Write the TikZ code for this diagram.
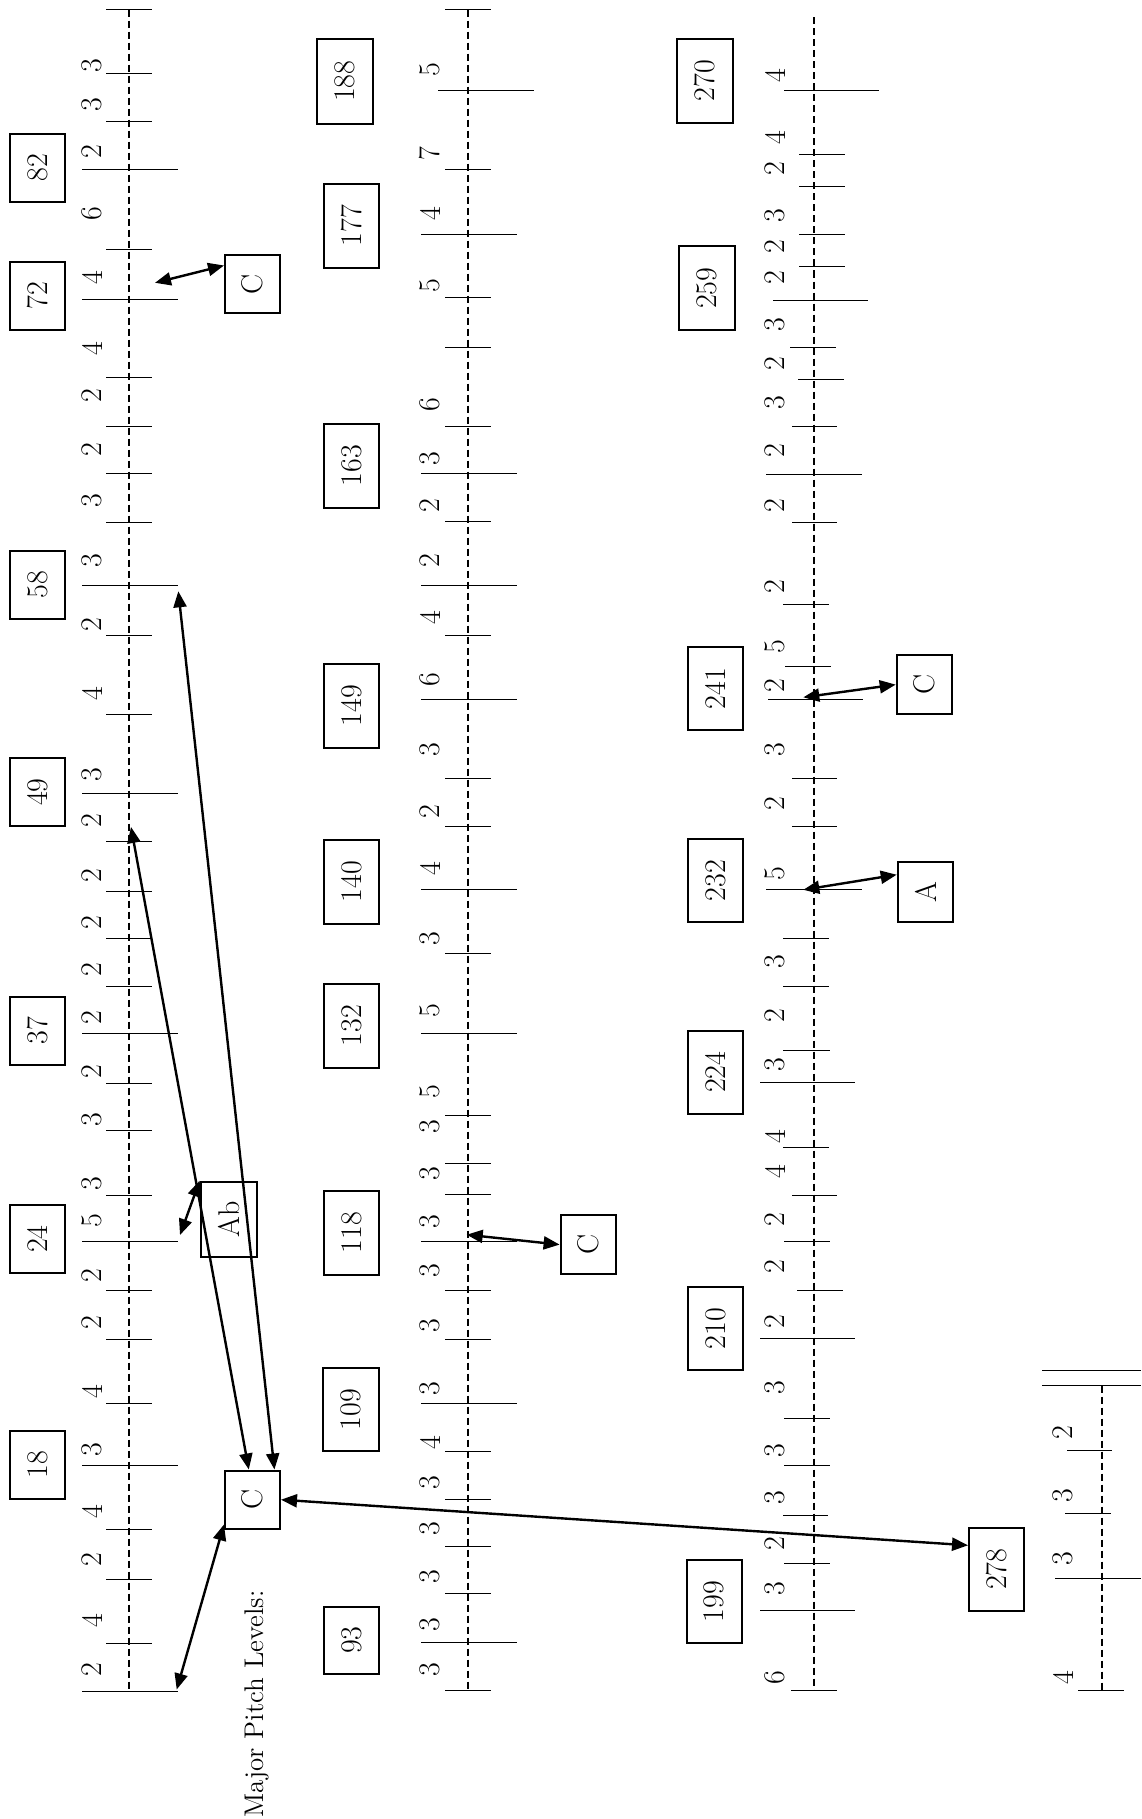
\documentclass[tikz,border=0pt]{standalone}
\usepackage{graphicx}
\usetikzlibrary{arrows.meta}
\newcommand\rtxt[1]{\rotatebox{90}{#1}}
\begin{document}
\begin{tikzpicture}[x=0.5pt,y=-0.5pt,
  numfont/.style={font=\fontsize{15}{18}\selectfont},
  lbl/.style={numfont, inner sep=0pt},
  bx/.style 2 args={draw, line width=1pt, numfont, inner sep=0pt, minimum width=#1, minimum height=#2},
  tk/.style={line width=0.5pt},
  staff/.style={line width=0.8pt, dash pattern=on 3.5pt off 2pt},
  link/.style={line width=1.2pt, {Triangle[length=8pt,width=6.5pt]}-{Triangle[length=8pt,width=6.5pt]}}]
\fill[white] (0,0) rectangle (1141,1819);
\useasboundingbox (0,0) rectangle (1141,1819);

% ---------- staff 1 ----------
\draw[staff] (129,9.7) -- (129,1691.5);
\foreach \y in {9.7,73.9,121.8,249.8,377.4,426,473.8,522,635,714,841.2,891,938.5,986.3,1083.6,1130.2,1195.2,1290,1339,1403.3,1529.6,1579,1643}
  \draw[tk] (106,\y) -- (152,\y);
\foreach \y in {170,299.6,585.5,793.7,1033.8,1241.5,1465.3,1691.5}
  \draw[tk] (82,\y) -- (178,\y);
\foreach \y/\t [count=\i] in {66/3,105/3,152/2,214/6,278/4,349/4,396/2,450/2,501/3,561/3,625/2,694/4,775/3,821/2,876/2,923/2,970/2,1018/2,1072/2,1120/3,1184/3,1221/5,1276/2,1323/2,1392/4,1450/3,1512/4,1560/2,1621/4,1670/2}
  \node[lbl] (la\i) at (92,\y) {\rtxt{\t}};

% ---------- staff 2 ----------
\draw[staff] (468,9.7) -- (468,1690.3);
\foreach \y in {9.7,169.2,297.6,347,426,521.3,635,778.2,826.4,953.2,1115.5,1163,1194,1290,1339,1451.5,1499,1546.6,1593.6,1690.3}
  \draw[tk] (445,\y) -- (491,\y);
\foreach \y in {234.2,473.8,585.5,699.2,889.8,1033.8,1241.5,1403.3,1642}
  \draw[tk] (421,\y) -- (517,\y);
\draw[tk] (438,90.3) -- (534,90.3);
\foreach \y/\t [count=\i] in {70/5,153.7/7,213.2/4,286/5,404.6/6,459/3,505.7/2,560.2/2,617.5/4,679.8/6,749.8/3,812/2,868.4/4,938.5/3,1010.4/5,1092/5,1127/3,1174/3,1221.7/3,1271/3,1325.5/3,1388.7/3,1442.8/4,1482.3/3,1528.5/3,1577/3,1624.4/3,1669.8/3}
  \node[lbl] (lb\i) at (430,\y) {\rtxt{\t}};

% ---------- staff 3 ----------
\draw[staff] (814,17.5) -- (814,1690.3);
\foreach \y/\a/\b in {90.3/784/879,154.4/799/845,186.7/799/845,234.2/799/845,266/799/845,300/773/868,347.4/790/836,379/798/844,426.4/792/837,474.6/766/862,522/792/837,604/783/829,666/785/831,699.2/768/863,778.2/792/837,826.4/792/837,889.8/766/862,938.5/783/829,986/783/829,1050/783/830,1082.4/760/855,1147.4/783/829,1195.2/792/837,1241.5/784/830,1290/797/843,1338.2/760/855,1418/784/830,1465.7/784/830,1515.8/783/828,1563.2/784/830,1610.6/760/855,1690.3/791/837}
  \draw[tk] (\a,\y) -- (\b,\y);
\foreach \y/\t [count=\i] in {76/4,138/4,169/2,216/3,247/2,278/2,325/3,364/2,403/3,451/2,506/2,587/2,647/5,686/2,750/3,804/2,874/5,962/3,1016/2,1065/3,1137/4,1172/4,1220/2,1267/2,1322/2,1388/3,1451/3,1498/3,1544/2,1589/3,1678/6}
  \node[lbl] (lc\i) at (775,\y) {\rtxt{\t}};

% ---------- staff 4 ----------
\draw[tk] (1042,1370.5) -- (1141,1370.5);
\draw[tk] (1042,1385.5) -- (1141,1385.5);
\draw[staff] (1102,1385.5) -- (1102,1690.3);
\draw[tk] (1067,1450) -- (1112,1450);
\draw[tk] (1065,1513.9) -- (1111,1513.9);
\draw[tk] (1055,1578.2) -- (1141,1578.2);
\draw[tk] (1078,1690.3) -- (1124,1690.3);
\foreach \y/\t [count=\i] in {1433/2,1496/3,1559/3,1678/4}
  \node[lbl] (ld\i) at (1063,\y) {\rtxt{\t}};

% ---------- number boxes ----------
\node[bx={27.5pt}{34pt}] (b82) at (37.5,168) {\rtxt{82}};
\node[bx={27.5pt}{34pt}] (b72) at (37.5,295.7) {\rtxt{72}};
\node[bx={27.5pt}{34pt}] (b58) at (37.5,584.6) {\rtxt{58}};
\node[bx={27.5pt}{34pt}] (b49) at (37.5,792) {\rtxt{49}};
\node[bx={27.5pt}{34pt}] (b37) at (37.5,1030.8) {\rtxt{37}};
\node[bx={27.5pt}{34pt}] (b24) at (37.5,1239) {\rtxt{24}};
\node[bx={27.5pt}{34pt}] (b18) at (37.5,1464.5) {\rtxt{18}};

\node[bx={28pt}{42.3pt}] (b188) at (344.7,81.3) {\rtxt{188}};
\node[bx={27.5pt}{42pt}] (b177) at (351.8,225.6) {\rtxt{177}};
\node[bx={27.5pt}{42pt}] (b163) at (351.7,465.8) {\rtxt{163}};
\node[bx={27.5pt}{42pt}] (b149) at (351.7,705.6) {\rtxt{149}};
\node[bx={27.5pt}{42pt}] (b140) at (351.7,881.8) {\rtxt{140}};
\node[bx={27.5pt}{42pt}] (b132) at (351.7,1025.6) {\rtxt{132}};
\node[bx={27.5pt}{42pt}] (b118) at (351.7,1232.7) {\rtxt{118}};
\node[bx={28.3pt}{41.6pt}] (b109) at (351,1409.4) {\rtxt{109}};
\node[bx={27.5pt}{33.5pt}] (b93) at (351.8,1640.1) {\rtxt{93}};

\node[bx={28.3pt}{41.8pt}] (b270) at (705,80.8) {\rtxt{270}};
\node[bx={27.8pt}{41.8pt}] (b259) at (707.2,288.2) {\rtxt{259}};
\node[bx={27.5pt}{41.8pt}] (b241) at (715.8,688.5) {\rtxt{241}};
\node[bx={27.5pt}{41.4pt}] (b232) at (715.8,880.7) {\rtxt{232}};
\node[bx={27.5pt}{41.4pt}] (b224) at (715.8,1072.3) {\rtxt{224}};
\node[bx={27.5pt}{41.4pt}] (b210) at (715.8,1328.4) {\rtxt{210}};
\node[bx={27.5pt}{41.5pt}] (b199) at (714.2,1601.5) {\rtxt{199}};

\node[bx={27.5pt}{41.5pt}] (b278) at (996.5,1569.2) {\rtxt{278}};

% ---------- pitch boxes ----------
\node[bx={27.5pt}{29.2pt}] (cTop) at (252.5,284) {\rtxt{C}};
\node[bx={28pt}{37.8pt}] (ab) at (228.7,1219.4) {\rtxt{Ab}};
\node[bx={27.5pt}{29.2pt}] (cLow) at (252.5,1499.7) {\rtxt{C}};
\node[bx={27.7pt}{29.6pt}] (cMid) at (588.3,1244.6) {\rtxt{C}};
\node[bx={27.5pt}{29.4pt}] (cS3) at (924.2,684.6) {\rtxt{C}};
\node[bx={27.8pt}{30.2pt}] (aBox) at (925.5,892) {\rtxt{A}};

\node[rotate=90, anchor=base west, inner sep=0pt, font=\fontsize{13.5}{16}\selectfont] (mpl) at (263,1818) {Major Pitch Levels:};

% ---------- connector ends on the staves ----------
\coordinate (t1a) at (155,282.8);
\coordinate (t1b) at (131,827);
\coordinate (t1c) at (178.3,591.3);
\coordinate (t1d) at (180,1235);
\coordinate (t1e) at (176.7,1689.5);
\coordinate (t2a) at (466.7,1234.7);
\coordinate (t3a) at (803.3,697.3);
\coordinate (t3b) at (803.3,889.8);

% ---------- connectors ----------
\draw[link] (cTop.147) -- (t1a);
\draw[link] (t1b) -- (cLow.97);
\draw[link] (t1c) -- (cLow.54);
\draw[link] (ab.north west) -- (t1d);
\draw[link] (cLow.221) -- (t1e);
\draw[link] (cLow.east) -- (b278.140);
\draw[link] (cMid.west) -- (t2a);
\draw[link] (cS3.west) -- (t3a);
\draw[link] (aBox.149) -- (t3b);
\end{tikzpicture}
\end{document}
